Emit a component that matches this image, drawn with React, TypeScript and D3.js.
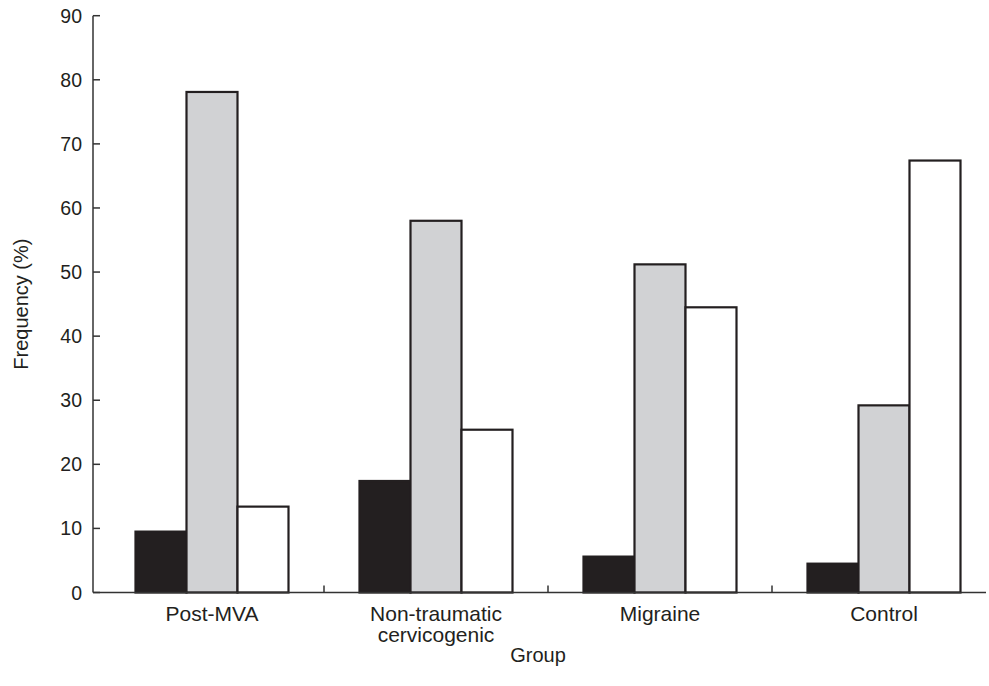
import React from "react";
import * as d3 from "d3";

const groups = ["Post-MVA", "Non-traumatic\ncervicogenic", "Migraine", "Control"];
const seriesKeys = ["black", "gray", "white"];
const blackValues = [9.5, 17.4, 5.6, 4.5];
const grayValues = [78.1, 58.0, 51.2, 29.2];
const whiteValues = [13.4, 25.4, 44.5, 67.4];
const yTicks = [0, 10, 20, 30, 40, 50, 60, 70, 80, 90];
const fills = ["#231f20", "#d1d2d4", "#ffffff"];

const W = 989;
const H = 686;
const axisX = 93;
const yTop = 15.7;
const yBase = 592.5;

export default function App() {
  const series = [blackValues, grayValues, whiteValues];
  const y = d3.scaleLinear().domain([0, 90]).range([yBase, yTop]);
  const x = d3.scaleBand().domain(groups).range([100, 996]).paddingInner(0).paddingOuter(0);
  const barW = 51;
  const font = "'Liberation Sans', Arial, Helvetica, sans-serif";
  const ink = "#231f20";
  return (
    <svg width={W} height={H} style={{ position: "absolute", left: 0, top: 0, background: "#fff" }}>
      {groups.map((g, gi) => {
        const cx = (x(g) as number) + x.bandwidth() / 2;
        const start = cx - (barW * 3) / 2;
        return (
          <g key={g}>
            {seriesKeys.map((k, si) => {
              const v = series[si][gi];
              const bx = start + si * barW;
              return (
                <rect
                  key={k}
                  x={bx}
                  y={y(v)}
                  width={barW}
                  height={yBase - y(v)}
                  fill={fills[si]}
                  stroke={ink}
                  strokeWidth={2.2}
                />
              );
            })}
          </g>
        );
      })}
      <line x1={axisX} x2={axisX} y1={yTop} y2={yBase} stroke="#333" strokeWidth={1.5} />
      {yTicks.map((t) => (
        <g key={t}>
          <line x1={axisX} x2={axisX + 7} y1={y(t)} y2={y(t)} stroke="#333" strokeWidth={1.5} />
          <text x={82} y={y(t)} dy="0.36em" textAnchor="end" fontFamily={font} fontSize={19.5} fill={ink}>
            {t}
          </text>
        </g>
      ))}
      <line x1={axisX} x2={986} y1={yBase} y2={yBase} stroke="#333" strokeWidth={1.5} />
      {groups.slice(1).map((g) => (
        <line key={g} x1={x(g) as number} x2={x(g) as number} y1={yBase} y2={yBase - 7} stroke="#333" strokeWidth={1.5} />
      ))}
      {groups.map((g) => {
        const cx = (x(g) as number) + x.bandwidth() / 2;
        const lines = g.split("\n");
        return (
          <text key={g} x={cx} y={621} textAnchor="middle" fontFamily={font} fontSize={21} fill={ink}>
            {lines.map((l, i) => (
              <tspan key={i} x={cx} dy={i === 0 ? 0 : 21}>
                {l}
              </tspan>
            ))}
          </text>
        );
      })}
      <text x={538} y={662} textAnchor="middle" fontFamily={font} fontSize={20} fill={ink}>
        Group
      </text>
      <text
        transform={`translate(28, ${(yTop + yBase) / 2}) rotate(-90)`}
        textAnchor="middle"
        fontFamily={font}
        fontSize={20}
        fill={ink}
      >
        Frequency (%)
      </text>
    </svg>
  );
}
